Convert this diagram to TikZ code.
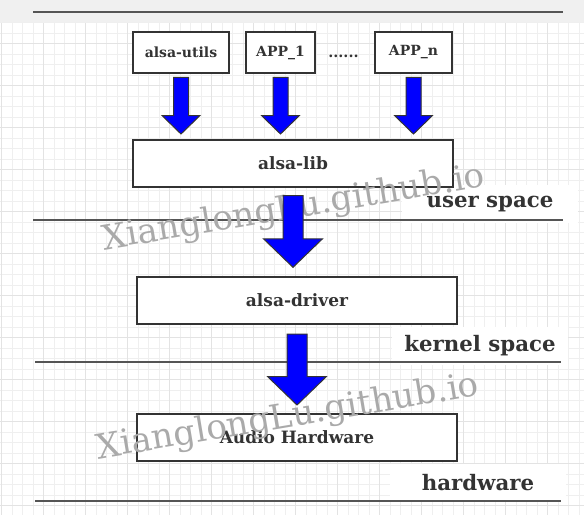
\documentclass[tikz,border=0pt]{standalone}
\usepackage{fontspec}
\setmainfont{DejaVu Serif}
\usetikzlibrary{calc, positioning}
\definecolor{ink}{HTML}{333333}
\definecolor{rule}{HTML}{555555}
\definecolor{band}{HTML}{F0F0F0}
\definecolor{gridminor}{HTML}{EFEFEF}
\definecolor{gridmajor}{HTML}{E3E3E3}
\definecolor{mark}{HTML}{AAAAAA}

% fat block arrow: from, to, shaft half width, head half width, head length, top gap, bottom gap
\newcommand{\fatarrow}[7]{%
  \draw[fat] let \p1=(#1.south), \p2=(#2.north) in
    (\x1-#3, \y1-#6) -- (\x1+#3, \y1-#6) -- (\x1+#3, \y2+#7+#5) -- (\x1+#4, \y2+#7+#5)
    -- (\x1, \y2+#7) -- (\x1-#4, \y2+#7+#5) -- (\x1-#3, \y2+#7+#5) -- cycle;}

\begin{document}
\begin{tikzpicture}[
    x=1pt, y=-1pt,
    box/.style={draw=ink, line width=1.3pt, fill=white, outer sep=0pt, inner sep=0pt,
        minimum height=41pt, text=ink, font=\fontsize{14}{16}\selectfont\bfseries},
    wide/.style={box, minimum width=320pt, minimum height=47pt, font=\fontsize{17}{19}\selectfont\bfseries},
    layer/.style={fill=white, text=ink, minimum width=176pt, minimum height=38pt,
        font=\fontsize{21.3}{23}\selectfont\bfseries},
    fat/.style={draw=ink, line width=1pt, fill=blue, line join=miter},
    sep/.style={draw=rule, line width=1.6pt},
    wm/.style={text=mark, rotate=9.5, font=\fontsize{34.3}{36}\selectfont}
]
    % --- Background: top band and grid paper ---
    \useasboundingbox (0,0) rectangle (584,515);
    \fill[band] (0,0) rectangle (584,23);
    \fill[white] (0,23) rectangle (584,515);
    \foreach \i in {0,...,55} {
        \draw[gridminor, line width=0.8pt] ({1.7+10.5*\i},23) -- ({1.7+10.5*\i},515);
    }
    \foreach \i in {2,...,48} {
        \draw[gridminor, line width=0.8pt] (0,{1.7+10.5*\i}) -- (584,{1.7+10.5*\i});
    }
    \foreach \i in {0,...,13} {
        \draw[gridmajor, line width=0.9pt] ({1.7+42*\i},23) -- ({1.7+42*\i},515);
    }
    \foreach \i in {1,...,12} {
        \draw[gridmajor, line width=0.9pt] (0,{1.7+42*\i}) -- (584,{1.7+42*\i});
    }

    % --- Layer rules ---
    \draw[sep] (33,12) -- (563,12);

    % --- Layer labels ---
    \node[layer] (user) at (490,204) {user space};
    \node[layer] (kernel) at (480,346) {kernel space};
    \node[layer] (hwlabel) at (478,482.5) {hardware};
    \draw[sep] (33,220) -- (563,220);
    \draw[sep] (35,362) -- (561,362);
    \draw[sep] (35,501) -- (561,501);

    % --- Applications ---
    \node[box, minimum width=96pt] (utils) at (181,52.5) {alsa-utils};
    \node[box, minimum width=69pt] (app1) at (280.5,52.5) {APP\_1};
    \node[text=ink, font=\fontsize{14.5}{16}\selectfont\bfseries] (dots) at (343.5,56) {......};
    \node[box, minimum width=77pt] (appn) at (413.5,52.5) {APP\_n};

    % --- Stack ---
    \node[wide] (lib) at (293,163.5) {alsa-lib};
    \node[wide] (driver) at (297,300.5) {alsa-driver};
    \node[wide] (hw) at (297,437.5) {Audio Hardware};

    % --- Watermarks ---
    \node[wm] (wm1) at (294,209) {XianglongLu.github.io};
    \node[wm] (wm2) at (288,418) {XianglongLu.github.io};

    % --- Block arrows ---
    \fatarrow{utils}{lib}{7.5}{19}{18.5}{4.3}{6}
    \fatarrow{app1}{lib}{7.5}{19}{18.5}{4.3}{6}
    \fatarrow{appn}{lib}{7.5}{19}{18.5}{4.3}{6}
    \fatarrow{lib}{driver}{10}{29.5}{28.5}{8.7}{9.7}
    \fatarrow{driver}{hw}{10}{29.5}{28.5}{10}{9}
\end{tikzpicture}
\end{document}
